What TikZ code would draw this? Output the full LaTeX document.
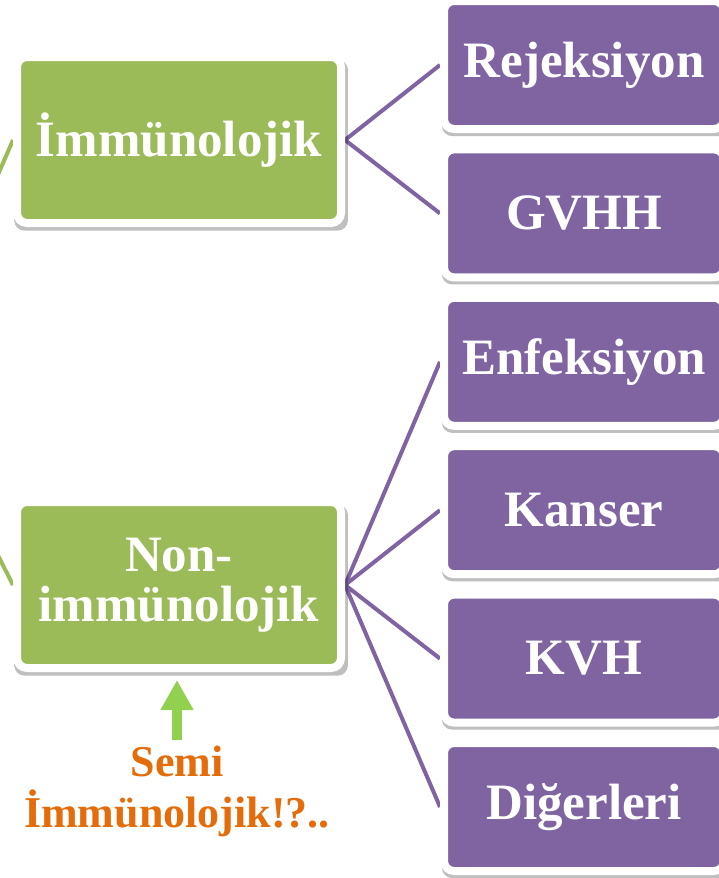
\documentclass[tikz,border=0pt]{standalone}
\usepackage{fontspec}
\setmainfont{Liberation Serif}
\usetikzlibrary{shadows,arrows.meta}
\definecolor{cgreen}{HTML}{9BBB59}
\definecolor{cpurple}{HTML}{8064A2}
\definecolor{corange}{HTML}{E46C0A}
\definecolor{carrow}{HTML}{92D050}
\pgfdeclarelayer{bg}
\pgfdeclarelayer{paper}
\pgfsetlayers{paper,bg,main}
\begin{document}
\begin{tikzpicture}[x=1pt,y=-1pt,
  boxbase/.style={rectangle, rounded corners=10pt, draw=white, line width=8pt,
    text=white, font=\fontsize{51}{50}\selectfont\bfseries, align=center, inner sep=0pt,
    drop shadow={shadow xshift=2pt, shadow yshift=-5pt, shadow scale=1.03, opacity=0.25, fill=black}},
  greenbox/.style={boxbase, fill=cgreen, minimum width=324pt, minimum height=166pt},
  purplebox/.style={boxbase, fill=cpurple, minimum width=280pt, minimum height=128pt},
  pline/.style={draw=cpurple, line width=4pt},
  gline/.style={draw=cgreen, line width=4pt}]
\clip (0,0) rectangle (719,878);
\begin{pgfonlayer}{paper}
\fill[white] (0,0) rectangle (719,878);
\end{pgfonlayer}

\node[greenbox] (imm) at (179,140) {İmmünolojik};
\node[greenbox] (non) at (179,585) {Non-\\immünolojik};

\node[purplebox] (rej) at (584,65) {Rejeksiyon};
\node[purplebox] (gvhh) at (584,213.4) {GVHH};
\node[purplebox] (enf) at (584,361.8) {Enfeksiyon};
\node[purplebox] (kan) at (584,510.2) {Kanser};
\node[purplebox] (kvh) at (584,658.6) {KVH};
\node[purplebox] (dig) at (584,807) {Diğerleri};

\node[text=corange, font=\fontsize{44}{51}\selectfont\bfseries, align=center, inner sep=0pt]
  (semi) at (177,791) {Semi\\İmmünolojik!?..};

\coordinate (rootA) at (-20,216);
\coordinate (rootB) at (-20,520);
\coordinate (arrowtail) at (177,740);
\coordinate (arrowtip) at (177,680);

\begin{pgfonlayer}{bg}
\draw[gline] (imm.west) -- (rootA);
\draw[gline] (non.west) -- (rootB);
\foreach \t in {rej,gvhh} \draw[pline] (imm.east) -- (\t.west);
\foreach \t in {enf,kan,kvh,dig} \draw[pline] (non.east) -- (\t.west);
\end{pgfonlayer}

\draw[carrow, line width=10pt, -{Triangle[width=31pt,length=30pt]}] (arrowtail) -- (arrowtip);
\end{tikzpicture}
\end{document}
